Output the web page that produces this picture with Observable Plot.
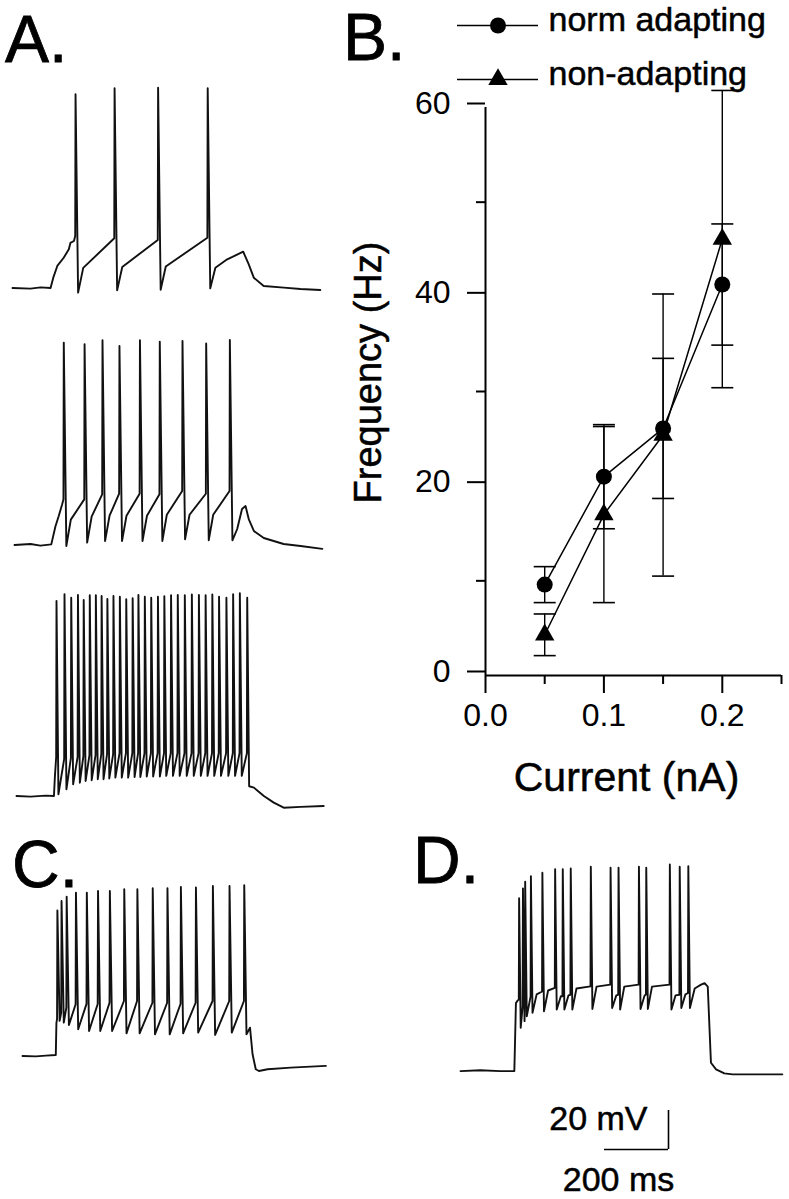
<!DOCTYPE html>
<html><head><meta charset="utf-8">
<script src="https://cdn.jsdelivr.net/npm/d3@7"></script>
<script src="https://cdn.jsdelivr.net/npm/@observablehq/plot@0.6"></script>
<style>
html,body{margin:0;padding:0;background:#fff;}
#fig{position:relative;width:789px;height:1199px;overflow:hidden;background:#fff;font-family:"Liberation Sans",Arial,Helvetica,sans-serif;color:#000;}
.panel{position:absolute;}
.letter{position:absolute;font-size:66px;line-height:66px;white-space:nowrap;-webkit-text-stroke:0.8px #000;}
</style></head><body><div id="fig"></div>
<script>
// ---------------- Panel B data ----------------
const current = [0.05, 0.1, 0.15, 0.2];                 // nA
const adaptMean = [9.6, 21.0, 26.1, 41.3];              // Hz, "norm adapting"
const adaptErr = [1.9, 5.5, 7.4, 6.4];
const nonAdaptMean = [4.3, 17.0, 25.4, 46.1];           // Hz, "non-adapting"
const nonAdaptErr = [2.2, 9.3, 14.9, 15.7];
const seriesNames = ["norm adapting", "non-adapting"];
const yMajor = [0, 20, 40, 60];
const yMinor = [10, 30, 50];
const xMajor = [0, 0.1, 0.2];
const xMinor = [0.05, 0.15, 0.25];
const xTitle = "Current (nA)";
const yTitle = "Frequency (Hz)";

// ---------------- Trace data (ms, mV) ----------------
// A1
const a1Pre = [[0,-70],[56,-70.3],[88,-69.7],[119,-70],[128,-64.4],[140,-58.7],[160,-54.5],[176,-50.1],[181,-46.9],[192,-45.9]];
const a1Times = [197, 319, 455, 610];
const a1Peak = [29.4, 32.4, 32.7, 32.4];
const a1Thr = [-43.3, -44.5, -45.4, -44.2];
const a1Trough = [-72.4, -71.2, -70.9, -70.2];
const a1Knee = [-59.7, -59.2, -59.0, null];
const a1Post = [[634,-59.6],[671,-55.3],[721,-51.4],[738,-57.8],[754,-64.7],[785,-69],[848,-69.8],[900,-70.5],[962,-71]];
// A2
const a2Pre = [[0,-70],[50,-69.5],[81,-70.3],[115,-69.7],[128,-60.4],[138,-55.3],[149,-49.1]];
const a2Times = [154, 219, 275, 328, 392, 454, 525, 599, 673];
const a2Peak = [33.8, 33, 35, 32.1, 35, 34.3, 34.7, 33.3, 35.2];
const a2Thr = [-46.6, -46.6, -44, -43.7, -43.7, -44, -42.3, -43.7, -42.3];
const a2Trough = [-70.5, -68.8, -68, -68, -68, -68, -67.1, -67.6, -67.6];
const a2Knee = [-57, -55.5, -55, -55, -55, -54.5, -54.5, -54.5, null];
const a2Post = [[696,-61.8],[711,-51.5],[722,-50],[732,-56.7],[748,-62.8],[779,-66.4],[841,-69.5],[894,-70.5],[962,-72]];
// A3
const a3Pre = [[0,-70],[44,-70.3],[91,-69.8],[117,-70],[120,-60]];
const a3Times = [125,150,171,192,210,229,248,266,284,303,323,343,363,381,401,421,442,462,483,504,526,548,570,591,612,633,656,677,698,721];
const a3Peak = [30,33.5,31.7,33.1,30.5,33,33,32.6,31.1,32.6,32.2,30.9,31.4,33.1,32.2,31.7,32.2,32.4,33,33.1,33,33.3,33.1,33,33.3,32.2,31.7,33.5,34,31.7];
const a3Thr = [-50,-51,-50.5,-50,-49.5,-49,-49,-48.5,-48.5,-48.5,-48,-48,-48,-48,-48,-48,-48,-48,-48,-48,-48,-48,-48,-48,-48,-48,-48,-48,-48,-48];
const a3Trough = [-69.1,-66.6,-64,-63.2,-62.3,-61.9,-61.4,-61.4,-61,-60.6,-60.6,-60.6,-60.3,-60.3,-60,-60,-60,-59.7,-59.7,-59.7,-59.7,-59.7,-59.7,-59.7,-59.7,-59.7,-59.7,-59.7,-59.7,-65];
const a3Post = [[742,-65.7],[773,-70],[804,-73.4],[835,-76],[888,-75.6],[960,-75.1]];
// C
const cPre = [[0,-70],[42,-70.2],[73,-69.8],[104,-69.5],[106,-53]];
const cTimes = [109, 122, 138, 167, 201, 236, 273, 318, 359, 407, 453, 495, 542, 595, 647, 693];
const cPeak = [4.7, 9.5, 11.7, 13.8, 13.8, 14.6, 14.6, 15.5, 15.5, 16, 16, 16.7, 16.4, 17.2, 17.2, 17.6];
const cThr = [-51, -47.8, -45.2, -43.5, -43.3, -43.3, -42.7, -41.8, -41.8, -42.7, -42.7, -43.2, -42.7, -41.8, -41.8, -41.8];
const cTrough = [-52, -52.9, -54.1, -56.3, -57.2, -57.2, -57.2, -58.4, -58.4, -58.9, -58.9, -58.4, -58, -59.2, -58, -58.9];
const cPost = [[711,-55.5],[719,-69.1],[729,-76.8],[739,-77.7],[766,-76.8],[838,-76],[948,-75.1]];
// D
const dPre = [[0,-70],[62,-69.6],[125,-70],[169,-70],[174,-35],[180,-33.5]];
const dTimes = [184, 196, 203, 221, 257, 297, 321, 346, 409, 471, 496, 560, 583, 657, 688, 715];
const dPeak = [19, 24.1, 27.5, 30.4, 32.1, 34, 34, 34.3, 35.2, 34.7, 34.7, 35.2, 34.7, 36.4, 35.2, 35.5];
const dThr = [-33.2, -36.7, -34.9, -31.5, -29, -27.2, -31.5, -30.7, -26.4, -25.5, -30.7, -25.5, -30.7, -25.5, -30.7, -29.8];
const dTrough = [-47.7, -44.3, -41.8, -40, -39.2, -38.3, -38.3, -38.3, -38, -37.5, -38.3, -38, -38, -38.3, -37.5, -37.5];
const dKnee = [null, null, null, -30.5, -28.5, -31.5, -31, -27.5, -26.5, -31, -26.5, -31, -26.5, -31, -30.5, null];
const dPost = [[735,-27.5],[755,-25.5],[766,-24.7],[776,-26.5],[786,-65.7],[802,-69.1],[828,-71.2],[854,-71.7],[1010,-71.7]];
// Scale bar
const scaleMs = 200;
const scaleMv = 20;

// ---------------- Layout / style ----------------
const FONT = '"Liberation Sans", Arial, Helvetica, sans-serif';
const PX_PER_MS = 0.32, PX_PER_MV = 1.95, REST = -70, M = 4, VMIN = -82, VMAX = 40;
const TXT = {fill: "#000", stroke: "#000", strokeWidth: 0.5};
const fig = document.getElementById("fig");

function place(el, left, top) {
  const d = document.createElement("div");
  d.className = "panel";
  d.style.left = left + "px";
  d.style.top = top + "px";
  d.appendChild(el);
  fig.appendChild(d);
}
function letter(txt, left, top) {
  const d = document.createElement("div");
  d.className = "letter";
  d.textContent = txt;
  d.style.left = left + "px";
  d.style.top = top + "px";
  fig.appendChild(d);
}

function buildTrace(tr) {
  const pts = tr.pre.map(([t, v]) => ({t, v}));
  tr.times.forEach((t, i) => {
    pts.push({t: t - 1, v: tr.thr[i]});
    pts.push({t, v: tr.peak[i]});
    pts.push({t: t + tr.fall, v: tr.trough[i]});
    if (tr.knee && tr.knee[i] != null) pts.push({t: t + tr.rise, v: tr.knee[i]});
  });
  tr.post.forEach(([t, v]) => pts.push({t, v}));
  return pts;
}

function traceChart(tr, tmax, x0, yb) {
  const data = buildTrace(tr);
  const chart = Plot.plot({
    width: tmax * PX_PER_MS + 2 * M,
    height: (VMAX - VMIN) * PX_PER_MV + 2 * M,
    margin: M,
    x: {domain: [0, tmax], axis: null},
    y: {domain: [VMIN, VMAX], axis: null},
    style: {background: "transparent", overflow: "visible"},
    marks: [
      Plot.line(data, {x: "t", y: "v", stroke: "#111", strokeWidth: 1.9, strokeLinejoin: "round", strokeLinecap: "round"})
    ]
  });
  place(chart, x0 - M, yb - (VMAX - REST) * PX_PER_MV - M);
}

traceChart({pre: a1Pre, times: a1Times, peak: a1Peak, thr: a1Thr, trough: a1Trough, knee: a1Knee, post: a1Post, fall: 8, rise: 24}, 980, 12, 287);
traceChart({pre: a2Pre, times: a2Times, peak: a2Peak, thr: a2Thr, trough: a2Trough, knee: a2Knee, post: a2Post, fall: 8, rise: 22}, 980, 14, 544);
traceChart({pre: a3Pre, times: a3Times, peak: a3Peak, thr: a3Thr, trough: a3Trough, knee: null, post: a3Post, fall: 6, rise: 0}, 980, 16, 795);
traceChart({pre: cPre, times: cTimes, peak: cPeak, thr: cThr, trough: cTrough, knee: null, post: cPost, fall: 7, rise: 0}, 960, 21.7, 1055);
traceChart({pre: dPre, times: dTimes, peak: dPeak, thr: dThr, trough: dTrough, knee: dKnee, post: dPost, fall: 5, rise: 18}, 1020, 460, 1071.7);

// ---------------- Scale bar ----------------
{
  const sb = Plot.plot({
    width: 70 + scaleMs * PX_PER_MS + 10,
    height: 10 + scaleMv * PX_PER_MV + 50,
    marginLeft: 70, marginRight: 10, marginTop: 10, marginBottom: 50,
    x: {domain: [0, scaleMs], axis: null},
    y: {domain: [0, scaleMv], axis: null},
    style: {background: "transparent", overflow: "visible", fontFamily: FONT, fontSize: "34px", color: "#000"},
    marks: [
      Plot.ruleY([0], {x1: 0, x2: scaleMs, strokeWidth: 1.6}),
      Plot.ruleX([scaleMs], {y1: 0, y2: scaleMv, strokeWidth: 1.6}),
      Plot.text([`${scaleMv} mV`], {x: scaleMs, y: scaleMv, text: d => d, textAnchor: "end", lineAnchor: "top", dx: -21, dy: -5, ...TXT}),
      Plot.text([`${scaleMs} ms`], {x: scaleMs / 2, y: 0, text: d => d, textAnchor: "middle", lineAnchor: "top", dx: -18, dy: 17, ...TXT})
    ]
  });
  place(sb, 604 - 70, 1110 - 10);
}

// ---------------- Panel B ----------------
{
  const rowsA = current.map((c, i) => ({current: c, mean: adaptMean[i], lo: adaptMean[i] - adaptErr[i], hi: adaptMean[i] + adaptErr[i]}));
  const rowsN = current.map((c, i) => ({current: c, mean: nonAdaptMean[i], lo: nonAdaptMean[i] - nonAdaptErr[i], hi: nonAdaptMean[i] + nonAdaptErr[i]}));
  const all = rowsA.concat(rowsN);
  const caps = all.flatMap(d => [{current: d.current, y: d.lo}, {current: d.current, y: d.hi}]);
  const cap = {draw(ctx, size) { const r = Math.sqrt(size / Math.PI); ctx.moveTo(-r, 0); ctx.lineTo(r, 0); }};
  const xDom = [0, 0.25], yDom = [0, 60];
  const chart = Plot.plot({
    width: 429, height: 800,
    marginLeft: 125, marginRight: 8, marginTop: 107, marginBottom: 125,
    x: {domain: xDom}, y: {domain: yDom},
    style: {background: "transparent", overflow: "visible", fontFamily: FONT, fontSize: "32px", color: "#000"},
    marks: [
      Plot.ruleX([xDom[0]], {y1: yDom[0], y2: yDom[1], strokeWidth: 2}),
      Plot.ruleY([yDom[0]], {x1: xDom[0], x2: xDom[1], strokeWidth: 2}),
      Plot.axisY({ticks: yMajor, tickSize: 18, tickPadding: 17, strokeWidth: 2, dy: -4, label: null, tickFormat: d3.format("d")}),
      Plot.axisY({ticks: yMinor, tickSize: 9, strokeWidth: 2, label: null, tickFormat: () => ""}),
      Plot.axisX({ticks: xMajor, tickSize: 18, tickPadding: 10, strokeWidth: 2, label: null, tickFormat: d3.format(".1f")}),
      Plot.axisX({ticks: xMinor, tickSize: 9, strokeWidth: 2, label: null, tickFormat: () => ""}),
      Plot.ruleX(all, {x: "current", y1: "lo", y2: "hi", strokeWidth: 1.4}),
      Plot.dot(caps, {x: "current", y: "y", symbol: cap, r: 11, stroke: "#000", strokeWidth: 1.6}),
      Plot.line(rowsA, {x: "current", y: "mean", strokeWidth: 1.5}),
      Plot.line(rowsN, {x: "current", y: "mean", strokeWidth: 1.5}),
      Plot.dot(rowsA, {x: "current", y: "mean", symbol: "circle", r: 8, fill: "#000", stroke: "none"}),
      Plot.dot(rowsN, {x: "current", y: "mean", symbol: "triangle", r: 7.2, fill: "#000", stroke: "none"}),
      Plot.text([xTitle], {text: d => d, frameAnchor: "bottom", textAnchor: "middle", lineAnchor: "top", dx: -7, dy: 86, fontSize: 41, ...TXT}),
      Plot.text([yTitle], {text: d => d, frameAnchor: "left", textAnchor: "middle", rotate: -90, dx: -117, dy: -19, fontSize: 38, ...TXT})
    ]
  });
  place(chart, 360, 0);

  // legend
  const legend = Plot.plot({
    width: 349, height: 100,
    marginLeft: 17, marginRight: 251, marginTop: 0, marginBottom: 0,
    x: {domain: [0, 1], axis: null},
    y: {type: "point", domain: seriesNames, range: [25, 79], padding: 0, axis: null},
    style: {background: "transparent", overflow: "visible", fontFamily: FONT, fontSize: "34px", color: "#000"},
    marks: [
      Plot.ruleY(seriesNames, {y: d => d, x1: 0, x2: 1, strokeWidth: 1.5}),
      Plot.dot([seriesNames[0]], {x: () => 0.5, y: d => d, symbol: "circle", r: 8, fill: "#000", stroke: "none"}),
      Plot.dot([seriesNames[1]], {x: () => 0.5, y: d => d, symbol: "triangle", r: 7.2, fill: "#000", stroke: "none"}),
      Plot.text(seriesNames, {x: () => 1, y: d => d, text: d => d, textAnchor: "start", dx: 10, dy: -5, ...TXT})
    ]
  });
  place(legend, 440, 0);
}

// ---------------- Panel letters ----------------
letter("A.", 5, 6);
letter("B.", 343, 4);
letter("C.", 12, 831);
letter("D.", 413, 827);
</script></body></html>
